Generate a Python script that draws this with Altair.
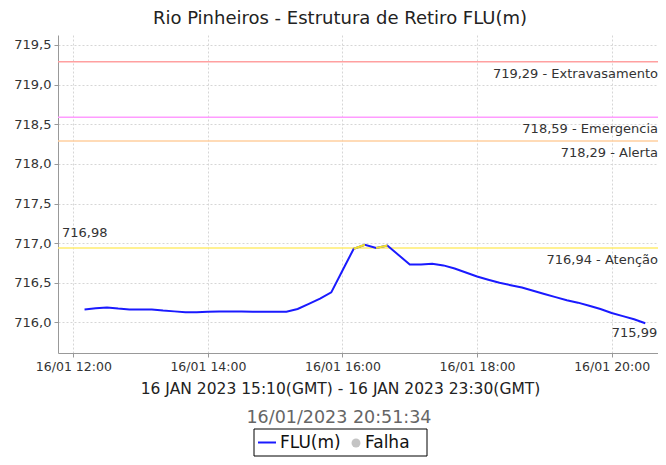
import altair as alt
import pandas as pd

title_text = "Rio Pinheiros - Estrutura de Retiro FLU(m)"
period_text = "16 JAN 2023 15:10(GMT) - 16 JAN 2023 23:30(GMT)"
stamp_text = "16/01/2023 20:51:34"
series_name = "FLU(m)"
fail_name = "Falha"

times = [
    "12:10", "12:20", "12:30", "12:40", "12:50", "13:00", "13:10", "13:20", "13:30", "13:40",
    "13:50", "14:00", "14:10", "14:20", "14:30", "14:40", "14:50", "15:00", "15:10", "15:20",
    "15:30", "15:40", "15:50", "16:00", "16:10", "16:20", "16:30", "16:40", "16:50", "17:00",
    "17:10", "17:20", "17:30", "17:40", "17:50", "18:00", "18:10", "18:20", "18:30", "18:40",
    "18:50", "19:00", "19:10", "19:20", "19:30", "19:40", "19:50", "20:00", "20:10", "20:20",
    "20:30",
]
values = [
    716.165, 716.18, 716.19, 716.175, 716.165, 716.165, 716.165, 716.15, 716.14, 716.13,
    716.13, 716.135, 716.14, 716.14, 716.14, 716.135, 716.135, 716.135, 716.135, 716.17,
    716.235, 716.30, 716.38, 716.655, 716.93, 716.98, 716.94, 716.97, 716.85, 716.73,
    716.73, 716.74, 716.72, 716.68, 716.63, 716.58, 716.54, 716.50, 716.47, 716.44,
    716.40, 716.36, 716.32, 716.28, 716.25, 716.21, 716.17, 716.12, 716.08, 716.04,
    715.99,
]

# segments of the curve drawn in yellow (at the attention level)
seg_ids = ["a", "a", "b", "b"]
seg_times = ["16:10", "16:20", "16:30", "16:40"]
seg_values = [716.93, 716.98, 716.94, 716.97]

thr_values = [719.29, 718.59, 718.29, 716.94]
thr_names = ["Extravasamento", "Emergencia", "Alerta", "Atenção"]
thr_colors = ["#ffa0a0", "#ff9cff", "#ffcf9f", "#ffec6e"]

day = "2023-01-16T"


def br(v):
    return f"{v:.2f}".replace(".", ",")


df = pd.DataFrame({"time": [day + t + ":00" for t in times], "value": values})
df_seg = pd.DataFrame({"time": [day + t + ":00" for t in seg_times], "value": seg_values, "seg": seg_ids})
df_thr = pd.DataFrame({
    "value": thr_values,
    "label": [f"{br(v)} - {n}" for v, n in zip(thr_values, thr_names)],
    "color": thr_colors,
})
imax = max(range(len(values)), key=lambda i: values[i])
df_max = pd.DataFrame({"value": [values[imax]], "label": [br(values[imax])]})
df_end = pd.DataFrame({"time": [df["time"].iloc[-1]], "value": [values[-1]], "label": [br(values[-1])]})
ann = pd.DataFrame({"stamp": [stamp_text], "s": [series_name], "f": [fail_name]})

W, H = 600, 318

x_scale = alt.Scale(domain=[
    alt.DateTime(year=2023, month=1, date=16, hours=11, minutes=46, seconds=20),
    alt.DateTime(year=2023, month=1, date=16, hours=20, minutes=41, seconds=20),
])
y_scale = alt.Scale(domain=[715.615, 719.626], nice=False, zero=False)

x_axis = alt.Axis(
    values=[alt.DateTime(year=2023, month=1, date=16, hours=h) for h in [12, 14, 16, 18, 20]],
    format="%d/%m %H:%M", labelFontSize=12.5, labelColor="#333", labelPadding=3,
    tickSize=4, tickColor="#999", domainColor="#999",
    grid=True, gridColor="#d6d6d6", gridDash=[2, 2],
    title=period_text, titleFontSize=15.5, titleFontWeight="normal", titleColor="#222",
    titleX=282, titleY=35, titleAlign="center", titleBaseline="middle",
)
y_axis = alt.Axis(
    values=[716 + 0.5 * i for i in range(8)],
    labelExpr="replace(format(datum.value, '.1f'), '.', ',')",
    labelFontSize=13, labelColor="#333", labelPadding=3,
    tickSize=4, tickColor="#999", domainColor="#999",
    grid=True, gridColor="#d6d6d6", gridDash=[2, 2],
)

X = alt.X("time:T", scale=x_scale, axis=x_axis)
Y = alt.Y("value:Q", scale=y_scale, axis=y_axis, title=None)

rules = alt.Chart(df_thr).mark_rule(strokeWidth=1.5).encode(
    y=Y, color=alt.Color("color:N", scale=None)
)
rule_text = alt.Chart(df_thr).mark_text(
    align="right", baseline="middle", dy=12, fontSize=13, color="#333"
).encode(x=alt.value(600), y=Y, text="label:N")

line = alt.Chart(df).mark_line(color="#1a1aff", strokeWidth=2).encode(x=X, y=Y)
seg = alt.Chart(df_seg).mark_line(color="#f2e22a", strokeWidth=2).encode(x=X, y=Y, detail="seg:N")

max_text = alt.Chart(df_max).mark_text(
    align="left", baseline="middle", dy=-12, fontSize=13, color="#333"
).encode(x=alt.value(4), y=Y, text="label:N")
end_text = alt.Chart(df_end).mark_text(
    align="right", baseline="middle", dx=12, dy=10, fontSize=13, color="#333"
).encode(x=X, y=Y, text="label:N")

stamp = alt.Chart(ann).mark_text(
    fontSize=17.5, color="#666", align="center", baseline="middle"
).encode(x=alt.value(281), y=alt.value(383), text="stamp:N")
leg_box = alt.Chart(ann).mark_rect(fill="white", stroke="#000", strokeWidth=1).encode(
    x=alt.value(196), x2=alt.value(369), y=alt.value(394), y2=alt.value(421)
)
leg_line = alt.Chart(ann).mark_rule(color="#1a1aff", strokeWidth=2).encode(
    x=alt.value(200), x2=alt.value(218), y=alt.value(407.5)
)
leg_t1 = alt.Chart(ann).mark_text(
    align="left", baseline="middle", fontSize=17, color="#111"
).encode(x=alt.value(222), y=alt.value(408), text="s:N")
leg_dot = alt.Chart(ann).mark_circle(color="#c4c4c4", size=80, opacity=1).encode(
    x=alt.value(298), y=alt.value(408)
)
leg_t2 = alt.Chart(ann).mark_text(
    align="left", baseline="middle", fontSize=17, color="#111"
).encode(x=alt.value(307), y=alt.value(408), text="f:N")

chart = alt.layer(
    rules, rule_text, line, seg, max_text, end_text,
    stamp, leg_box, leg_line, leg_t1, leg_dot, leg_t2,
).properties(
    width=W, height=H,
    title=alt.TitleParams(
        title_text, fontSize=18, fontWeight="normal", color="#222",
        anchor="middle", frame="group", dx=-18, offset=7,
    ),
    autosize=alt.AutoSizeParams(type="none"),
    padding={"left": 50, "top": 27, "right": 0, "bottom": 104},
).configure(font="DejaVu Sans").configure_view(stroke=None)

chart.save("out.html", embed_options={"renderer": "svg", "actions": False})
